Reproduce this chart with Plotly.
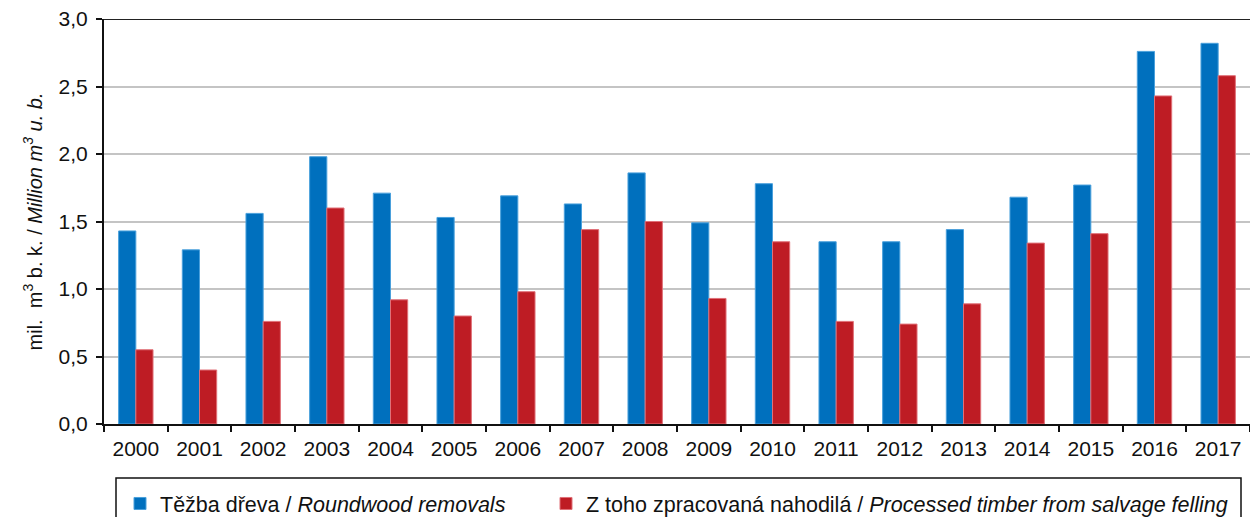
import plotly.graph_objects as go

years = [str(y) for y in range(2000, 2018)]
roundwood = [1.43, 1.29, 1.56, 1.98, 1.71, 1.53, 1.69, 1.63, 1.86, 1.49, 1.78, 1.35, 1.35, 1.44, 1.68, 1.77, 2.76, 2.82]
salvage = [0.55, 0.40, 0.76, 1.60, 0.92, 0.80, 0.98, 1.44, 1.50, 0.93, 1.35, 0.76, 0.74, 0.89, 1.34, 1.41, 2.43, 2.58]
y_ticks = [0, 0.5, 1.0, 1.5, 2.0, 2.5, 3.0]
y_tick_labels = ["0,0", "0,5", "1,0", "1,5", "2,0", "2,5", "3,0"]

W, H = 1250, 517
L, R, T, B = 104, 0, 19, 93
PW = W - L - R
PH = H - T - B

def px_x(p):
    return (p - L) / PW

def px_y(p):
    return (H - B - p) / PH

def cont_y(p):
    return (H - p) / H

font = "Liberation Sans, Arial, sans-serif"
FS = 21

fig = go.Figure()
fig.add_trace(go.Bar(
    x=years, y=roundwood,
    name="Těžba dřeva / <i>Roundwood removals</i>",
    marker=dict(color="#0070BE", line=dict(color="#4AA0DC", width=1)),
    legend="legend",
))
fig.add_trace(go.Bar(
    x=years, y=salvage,
    name="Z toho zpracovaná nahodilá / <i>Processed timber from salvage felling</i>",
    marker=dict(color="#BE1C24", line=dict(color="#E07078", width=1)),
    legend="legend2",
))

leg_common = dict(
    orientation="h", xanchor="left", yanchor="top",
    yref="container", y=cont_y(483),
    font=dict(family=font, size=21.5, color="#111"),
    bgcolor="rgba(0,0,0,0)", itemwidth=30,
)

fig.update_layout(
    width=W, height=H,
    margin=dict(l=L, r=R, t=T, b=B, pad=0, autoexpand=False),
    paper_bgcolor="white", plot_bgcolor="white",
    barmode="group", bargap=0.46, bargroupgap=0,
    font=dict(family=font, size=FS, color="#111"),
    showlegend=True,
    legend=dict(x=px_x(120), **leg_common),
    legend2=dict(x=px_x(546), **leg_common),
    xaxis=dict(
        type="category",
        showline=True, linecolor="#111", linewidth=2,
        ticks="outside", tickson="boundaries", ticklen=6, tickcolor="#111", tickwidth=2,
        showgrid=False, ticklabelstandoff=5,
        tickfont=dict(family=font, size=FS, color="#111"),
    ),
    yaxis=dict(
        range=[0, 3.0],
        tickvals=y_ticks, ticktext=y_tick_labels,
        showline=True, linecolor="#111", linewidth=2,
        ticks="outside", ticklen=6, tickcolor="#111", tickwidth=2,
        showgrid=True, gridcolor="#C4C4C4", gridwidth=2,
        zeroline=False, ticklabelstandoff=4,
        tickfont=dict(family=font, size=FS, color="#111"),
        title=dict(
            text="mil.  m<sup>3</sup> b. k. / <i>Million m<sup>3</sup> u. b.</i>",
            font=dict(family=font, size=20, color="#111"),
            standoff=11,
        ),
    ),
    shapes=[
        dict(type="line", xref="paper", yref="y", x0=0, x1=1, y0=3.0, y1=3.0,
             line=dict(color="#222", width=2), layer="above"),
        dict(type="rect", xref="paper", yref="paper",
             x0=px_x(116), x1=px_x(1241), y0=px_y(478), y1=px_y(540),
             line=dict(color="#111", width=1.5), fillcolor="rgba(0,0,0,0)"),
    ],
)

fig.write_html("out.html", config={"displayModeBar": False})

with open("out.html", "r", encoding="utf-8") as f:
    html = f.read()
html = html.replace("<body>", '<body style="margin:0;padding:0;overflow:hidden">', 1)
with open("out.html", "w", encoding="utf-8") as f:
    f.write(html)
